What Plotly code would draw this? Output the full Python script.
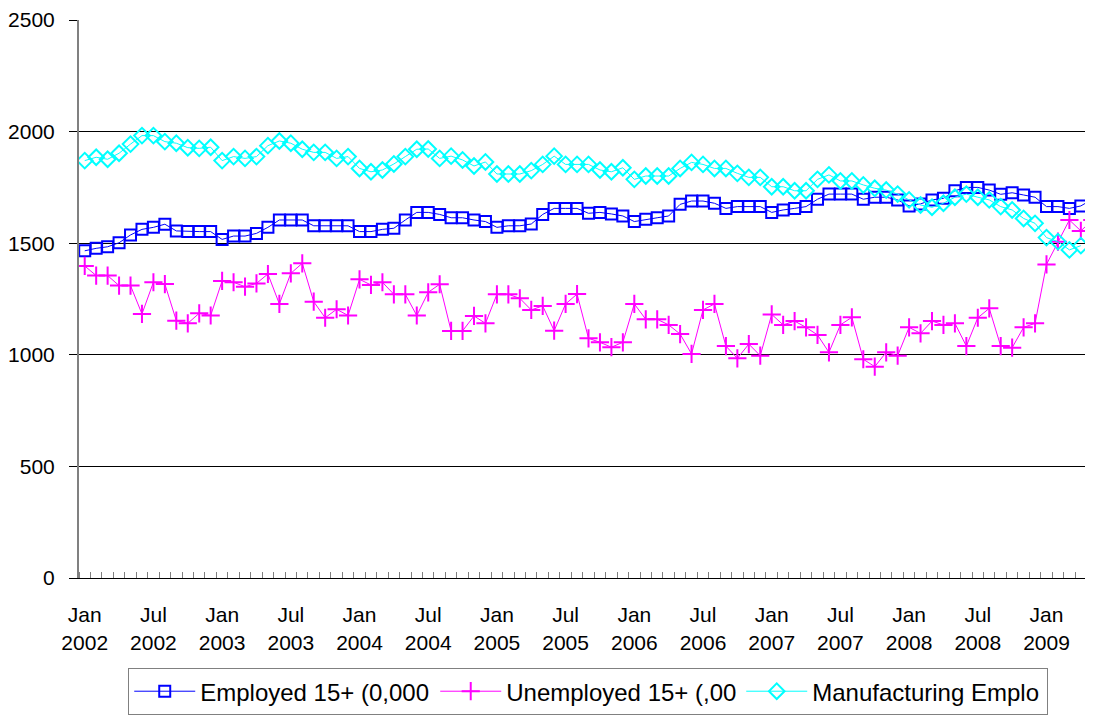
import plotly.graph_objects as go

# ---- data (monthly, Jan 2002 .. May 2009) ----
years = [2002, 2003, 2004, 2005, 2006, 2007, 2008, 2009]
month_names = ["Jan", "Feb", "Mar", "Apr", "May", "Jun",
               "Jul", "Aug", "Sep", "Oct", "Nov", "Dec"]
months = [f"{m} {y}" for y in years for m in month_names][:89]

employed = [1466, 1477, 1484, 1502, 1537, 1562, 1571, 1585, 1555, 1552, 1552, 1552,
            1517, 1532, 1532, 1544, 1571, 1604, 1604, 1604, 1578, 1578, 1578, 1578,
            1552, 1552, 1562, 1567, 1604, 1638, 1638, 1629, 1614, 1614, 1604, 1597,
            1571, 1578, 1578, 1586, 1629, 1656, 1656, 1656, 1634, 1638, 1631, 1622,
            1597, 1607, 1614, 1622, 1674, 1689, 1689, 1679, 1656, 1664, 1664, 1664,
            1638, 1649, 1656, 1664, 1697, 1720, 1720, 1720, 1697, 1706, 1706, 1694,
            1667, 1676, 1694, 1701, 1735, 1750, 1750, 1738, 1719, 1726, 1716, 1706,
            1664, 1664, 1656, 1667, 1697]

unemployed = [1398, 1355, 1355, 1310, 1310, 1183, 1325, 1317, 1153, 1141, 1186, 1176,
              1331, 1325, 1305, 1320, 1362, 1228, 1365, 1410, 1238, 1166, 1204, 1176,
              1338, 1313, 1325, 1271, 1271, 1176, 1280, 1316, 1107, 1107, 1174, 1141,
              1271, 1271, 1253, 1201, 1219, 1108, 1228, 1272, 1074, 1056, 1034, 1056,
              1228, 1159, 1159, 1134, 1093, 1004, 1201, 1228, 1039, 984, 1048, 996,
              1181, 1134, 1151, 1123, 1089, 1011, 1134, 1168, 980, 947, 1011, 996,
              1123, 1096, 1151, 1134, 1141, 1039, 1166, 1208, 1039, 1032, 1123, 1141,
              1405, 1507, 1604, 1555, 1604]

manufacturing = [1870, 1885, 1876, 1903, 1944, 1982, 1982, 1955, 1948, 1928, 1925, 1930,
                 1870, 1888, 1880, 1888, 1937, 1958, 1948, 1921, 1907, 1907, 1880, 1888,
                 1835, 1820, 1828, 1855, 1888, 1921, 1922, 1880, 1890, 1873, 1846, 1864,
                 1810, 1810, 1810, 1825, 1853, 1890, 1853, 1853, 1853, 1828, 1820, 1838,
                 1786, 1801, 1801, 1801, 1835, 1862, 1853, 1835, 1835, 1813, 1795, 1795,
                 1753, 1753, 1735, 1735, 1786, 1806, 1779, 1779, 1761, 1746, 1738, 1720,
                 1694, 1671, 1661, 1679, 1706, 1720, 1706, 1694, 1664, 1649, 1611, 1589,
                 1525, 1507, 1470, 1489]

series_names = ["Employed 15+ (0,000", "Unemployed 15+ (,00", "Manufacturing Emplo"]

# tick labels every 6 months
label_idx = list(range(0, 89, 6))
tick_labels = [months[i].replace(" ", "<br>") for i in label_idx]

FONT = "Liberation Sans, Arial, sans-serif"

x_idx = list(range(len(months)))

fig = go.Figure()
fig.add_trace(go.Scatter(
    x=x_idx, y=employed, name=series_names[0], mode="lines+markers",
    line=dict(color="#0000FF", width=1),
    marker=dict(symbol="square-open", size=11, color="#0000FF", line=dict(width=2, color="#0000FF")),
    customdata=months, hovertemplate="%{customdata}: %{y}<extra></extra>"))
fig.add_trace(go.Scatter(
    x=x_idx, y=unemployed, name=series_names[1], mode="lines+markers",
    line=dict(color="#FF00FF", width=1),
    marker=dict(symbol="cross-thin", size=13, color="#FF00FF", line=dict(width=2, color="#FF00FF")),
    customdata=months, hovertemplate="%{customdata}: %{y}<extra></extra>"))
fig.add_trace(go.Scatter(
    x=x_idx[:len(manufacturing)], y=manufacturing, name=series_names[2], mode="lines+markers",
    line=dict(color="#00FFFF", width=1),
    marker=dict(symbol="diamond-open", size=12, color="#00FFFF", line=dict(width=2, color="#00FFFF")),
    customdata=months, hovertemplate="%{customdata}: %{y}<extra></extra>"))

fig.update_layout(
    width=1093, height=727,
    margin=dict(l=71, r=0, t=12, b=157, pad=0, autoexpand=False),
    paper_bgcolor="white", plot_bgcolor="white",
    font=dict(family=FONT, size=21, color="black"),
    showlegend=True,
    legend=dict(orientation="h", xref="container", yref="container",
                x=0.11, xanchor="left", y=0.092, yanchor="top",
                bordercolor="#808080", borderwidth=1, bgcolor="white",
                font=dict(family=FONT, size=24, color="black"),
                itemwidth=61, entrywidth=230, entrywidthmode="pixels",
                traceorder="normal", itemclick=False),
    xaxis=dict(
        range=[-0.5, 88.76], showgrid=False, zeroline=False, automargin=False,
        showline=True, linecolor="black", linewidth=1,
        tickmode="array", tickvals=label_idx, ticktext=tick_labels,
        ticks="", ticklabelstandoff=18,
        tickfont=dict(family=FONT, size=21, color="black"),
        minor=dict(tickmode="linear", tick0=-0.5, dtick=1, ticks="inside",
                   ticklen=6, tickcolor="#808080", tickwidth=1, showgrid=False),
    ),
    yaxis=dict(
        range=[0, 2500], tickmode="linear", tick0=0, dtick=500, automargin=False,
        showgrid=True, gridcolor="black", gridwidth=1, zeroline=False,
        showline=True, linecolor="#808080", linewidth=2,
        ticks="outside", ticklen=8, tickcolor="black", tickwidth=1,
        ticklabelstandoff=10,
        tickfont=dict(family=FONT, size=21, color="black"),
    ),
)

fig.write_html("out.html")
